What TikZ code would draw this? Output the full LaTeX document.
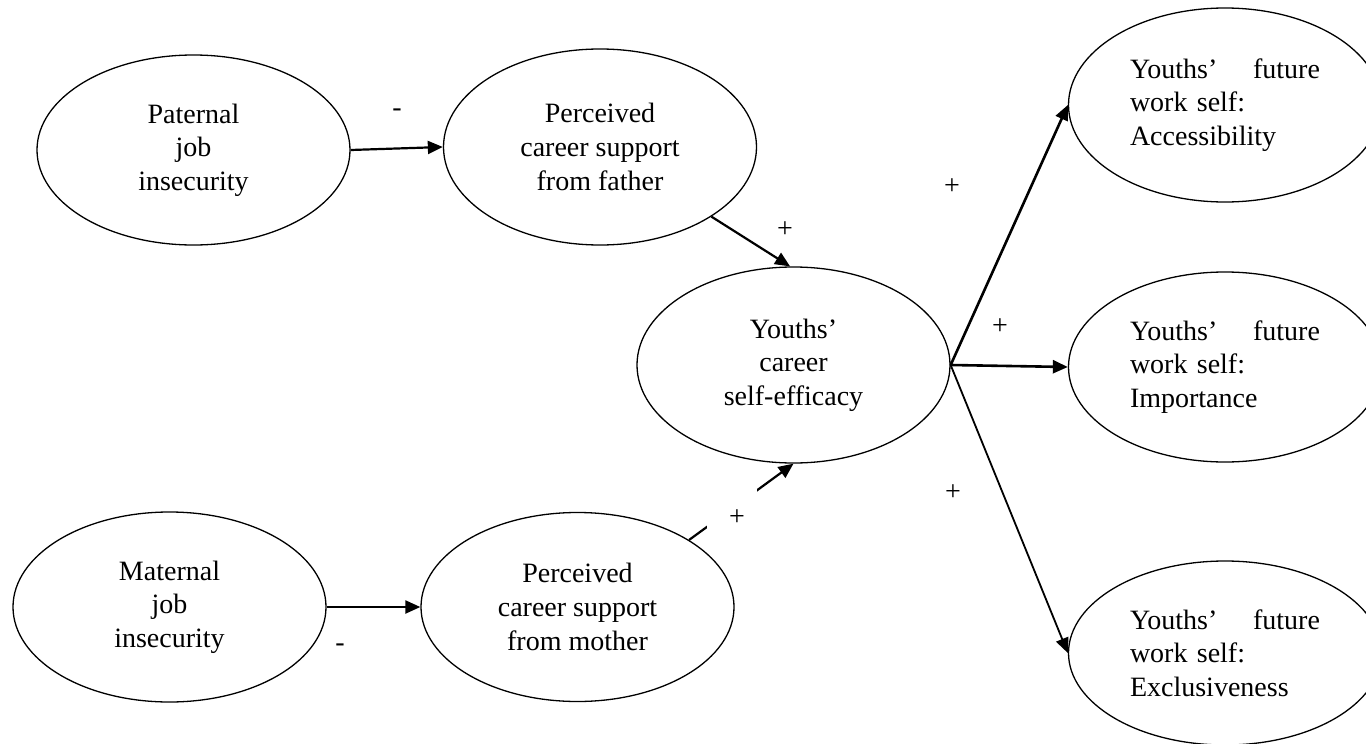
\documentclass[tikz,border=0pt]{standalone}
\usepackage{fontspec}
\setmainfont{Liberation Serif}
\usetikzlibrary{shapes.geometric,arrows.meta}
\begin{document}
\begin{tikzpicture}[x=1pt,y=-1pt,
  latent/.style={ellipse,draw,line width=1.3pt,minimum width=313pt,
    minimum height=190pt,inner sep=0pt,align=center,
    font=\fontsize{28}{33.6}\selectfont},
  outcome/.style={latent,text width=190pt,align=left},
  pathway/.style={line width=2.2pt,-{Triangle[length=15pt,width=13pt]}},
  sign/.style={font=\fontsize{28}{33.6}\selectfont,inner sep=0pt}]
\clip (0,0) rectangle (1366,744);

% predictors and mediators
\node[latent] (pat) at (193.5,150) {Paternal\\job\\insecurity};
\node[latent,minimum height=196pt] (fat) at (600,147) {Perceived\\career support\\from father};
\node[latent] (mat) at (169.5,607) {Maternal\\job\\insecurity};
\node[latent,minimum height=189pt] (mot) at (577.5,607) {Perceived\\career support\\from mother};
\node[latent,minimum height=196pt] (se) at (793.5,365) {Youths’\\career\\self-efficacy};

% outcomes
\node[outcome,minimum height=194pt] (acc) at (1225,105) {Youths’\hfill future\\work self:\\Accessibility};
\node[outcome] (imp) at (1225,367) {Youths’\hfill future\\work self:\\Importance};
\node[outcome,minimum height=184pt] (exc) at (1225,653) {Youths’\hfill future\\work self:\\Exclusiveness};

% paths
\draw[pathway] (pat.east) -- (fat.west);
\draw[pathway] (mat.east) -- (mot.west);
\draw[pathway] (fat.-32) -- (se.92);
\draw[pathway] (mot.31) -- (se.south);
\draw[pathway,line width=2.6pt] (se.east) -- (acc.west);
\draw[pathway,line width=2.6pt] (se.east) -- (imp.west);
\draw[pathway,line width=1.8pt] (se.east) -- (exc.west);

% label box over the mother path
\node[fill=white,inner sep=0pt,minimum width=50pt,minimum height=52pt] (mbox) at (732,510) {};

% signs
\node[sign] (s1) at (397,113) {-};
\node[sign] (s2) at (785,230) {+};
\node[sign] (s3) at (952,187) {+};
\node[sign] (s4) at (1000,327) {+};
\node[sign] (s5) at (953,493) {+};
\node[sign] (s6) at (340,648) {-};
\node[sign] (s7) at (737,518) {+};
\end{tikzpicture}
\end{document}
